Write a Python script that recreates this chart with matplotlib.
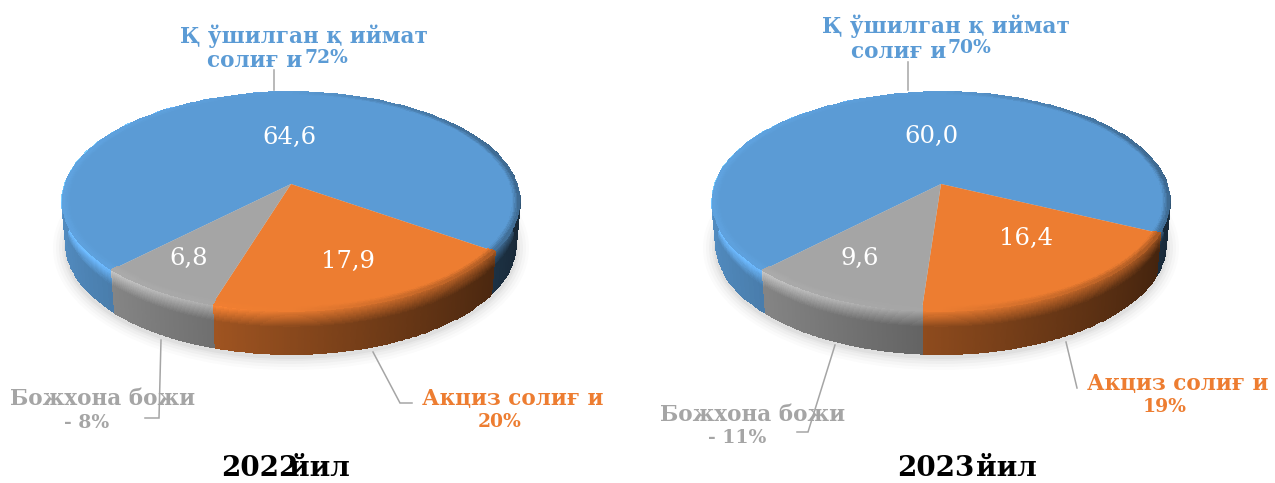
import numpy as np
import matplotlib as mpl
mpl.use('Agg')
import matplotlib.pyplot as plt
import matplotlib.transforms as mtrans
from matplotlib.patches import Ellipse

# data
years      = ['2022', '2023']
vals_2022  = [64.6, 17.9, 6.8]
vals_2023  = [60.0, 16.4, 9.6]
labs_2022  = ['64,6', '17,9', '6,8']
labs_2023  = ['60,0', '16,4', '9,6']
pct_2022   = ['72%', '20%', '8%']
pct_2023   = ['70%', '19%', '11%']
cols       = ['#5B9BD5', '#ED7D31', '#A5A5A5']
name_blue  = ['Қ ўшилган қ иймат', 'солиғ и']
name_orng  = 'Акциз солиғ и'
name_gray  = 'Божхона божи'

# geometry of the tilted disc, pixels
K, AY, BX  = 0.16, 106.7, 226.0
APEX_Y     = 184.0
DEPTH      = 43.0
SERIF      = 'DejaVu Serif'


def project(u, v, cx):
    s = 1.0 + K*v
    return cx + BX*u/s, APEX_Y - AY*v/s


class Persp(mtrans.Transform):
    input_dims = 2
    output_dims = 2
    is_separable = False
    has_inverse = False

    def __init__(self, cx):
        super().__init__()
        self.cx = cx

    def transform_non_affine(self, values):
        values = np.asarray(values)
        x, y = project(values[:, 0], values[:, 1], self.cx)
        return np.column_stack([x, y])


def side_factor(u):
    return 0.58 - 0.32*u


def draw_side(ax, cx, th1, th2, col):
    base = np.array(mpl.colors.to_rgb(col))
    th = np.radians(np.linspace(th1, th2, 120))
    t = np.linspace(0, 1, 40)
    tt, aa = np.meshgrid(t, th, indexing='ij')
    px, py = project(np.cos(aa), np.sin(aa), cx)
    X = cx + (px - cx)*(1 - 0.018*tt)
    Y = py + DEPTH*tt
    tm = 0.5*(t[:-1] + t[1:])
    am = 0.5*(th[:-1] + th[1:])
    tg, ag = np.meshgrid(tm, am, indexing='ij')
    f = side_factor(np.cos(ag))
    # light bevel just under the rim, fades to the right
    bev = np.clip(1 - tg/0.4, 0, 1)
    shine = 1.0 - 0.36*np.cos(ag)
    fac = f*(1 - bev) + shine*bev
    C = np.clip(base[None, None, :]*fac[..., None], 0, 1)
    ax.pcolormesh(X, Y, C, shading='flat', edgecolors='face', linewidth=0.3, zorder=2)


def draw_rim(ax, cx, th1, th2, col):
    base = np.array(mpl.colors.to_rgb(col))
    th = np.radians(np.linspace(th1, th2, 120))
    r = np.linspace(0.97, 0.998, 6)
    rr, aa = np.meshgrid(r, th, indexing='ij')
    X, Y = project(rr*np.cos(aa), rr*np.sin(aa), cx)
    rm = 0.5*(r[:-1] + r[1:])
    am = 0.5*(th[:-1] + th[1:])
    rg, ag = np.meshgrid(rm, am, indexing='ij')
    w = (rg - 0.97)/0.028
    edge = 1.0 - 0.35*np.clip(np.cos(ag), 0, 1) + 0.05*np.clip(-np.cos(ag), 0, 1)
    fac = 1*(1 - w) + edge*w
    C = np.clip(base[None, None, :]*fac[..., None], 0, 1)
    ax.pcolormesh(X, Y, C, shading='flat', edgecolors='face', linewidth=0.3, zorder=4)


def draw_pie(ax, cx, vals, start):
    # soft shadow under the disc
    for grow, a in zip([12, 9, 6, 3, 1], [0.03, 0.04, 0.05, 0.06, 0.08]):
        ax.add_patch(Ellipse((cx, 248), 2*(226 + grow), 2*(110 + grow), fc='#808080',
                             ec='none', alpha=a, zorder=1))
    wedges, _ = ax.pie(vals, colors=cols, startangle=start, counterclock=False,
                       wedgeprops={'linewidth': 0})
    for w, col in zip(wedges, cols):
        w.set_transform(Persp(cx) + ax.transData)
        w.set_zorder(3)
        w.set_clip_on(False)
        draw_side(ax, cx, w.theta1, w.theta2, col)
        draw_rim(ax, cx, w.theta1, w.theta2, col)


def ptext(ax, x, y, s, col, size=15.5, ha='center', weight='bold'):
    ax.text(x, y, s, color=col, fontsize=size, ha=ha, va='center', family=SERIF,
            fontweight=weight, zorder=6)


def leader(ax, xs, ys):
    ax.plot(xs, ys, color='#A5A5A5', lw=1.1, zorder=5, solid_joinstyle='miter')


fig = plt.figure(figsize=(12.75, 4.83), dpi=100, facecolor='w')
ax = fig.add_axes([0, 0, 1, 1])

draw_pie(ax, 291.0, vals_2022, 225.4)
draw_pie(ax, 941.0, vals_2023, 225.7)

# values on the slices
for (x, y), s in zip([(289, 137), (348, 261), (189, 258)], labs_2022):
    ptext(ax, x, y, s, 'w', size=17.5, weight='normal')
for (x, y), s in zip([(931, 136), (1026, 238), (860, 258)], labs_2023):
    ptext(ax, x, y, s, 'w', size=17.5, weight='normal')

# category labels, 2022
ptext(ax, 304, 36, name_blue[0], cols[0])
ptext(ax, 255, 61, name_blue[1], cols[0])
ptext(ax, 326, 58, pct_2022[0], cols[0], size=13.5)
ptext(ax, 513, 399, name_orng, cols[1])
ptext(ax, 500, 422, pct_2022[1], cols[1], size=13.5)
ptext(ax, 103, 399, name_gray, cols[2])
ptext(ax, 87, 423, '- ' + pct_2022[2], cols[2], size=13.5)

# category labels, 2023
ptext(ax, 946, 26, name_blue[0], cols[0])
ptext(ax, 899, 52, name_blue[1], cols[0])
ptext(ax, 969, 48, pct_2023[0], cols[0], size=13.5)
ptext(ax, 1178, 384, name_orng, cols[1])
ptext(ax, 1165, 407, pct_2023[1], cols[1], size=13.5)
ptext(ax, 753, 415, name_gray, cols[2])
ptext(ax, 737, 438, '- ' + pct_2023[2], cols[2], size=13.5)

# leader lines
leader(ax, [274, 274], [70, 90])
leader(ax, [161, 159, 145], [340, 418, 418])
leader(ax, [373, 400, 412], [352, 403, 403])
leader(ax, [908, 908], [62, 90])
leader(ax, [835, 808, 797], [345, 432, 432])
leader(ax, [1066, 1077], [342, 388])

# year captions
ptext(ax, 260, 469, years[0], 'k', size=20)
ptext(ax, 319, 469, 'йил', 'k', size=20)
ptext(ax, 936, 468, years[1], 'k', size=20)
ptext(ax, 1006, 468, 'йил', 'k', size=20)

ax.set_aspect('auto')
ax.set_xlim(0, 1275)
ax.set_ylim(483, 0)
ax.axis('off')
plt.savefig('out.png', dpi=100)
